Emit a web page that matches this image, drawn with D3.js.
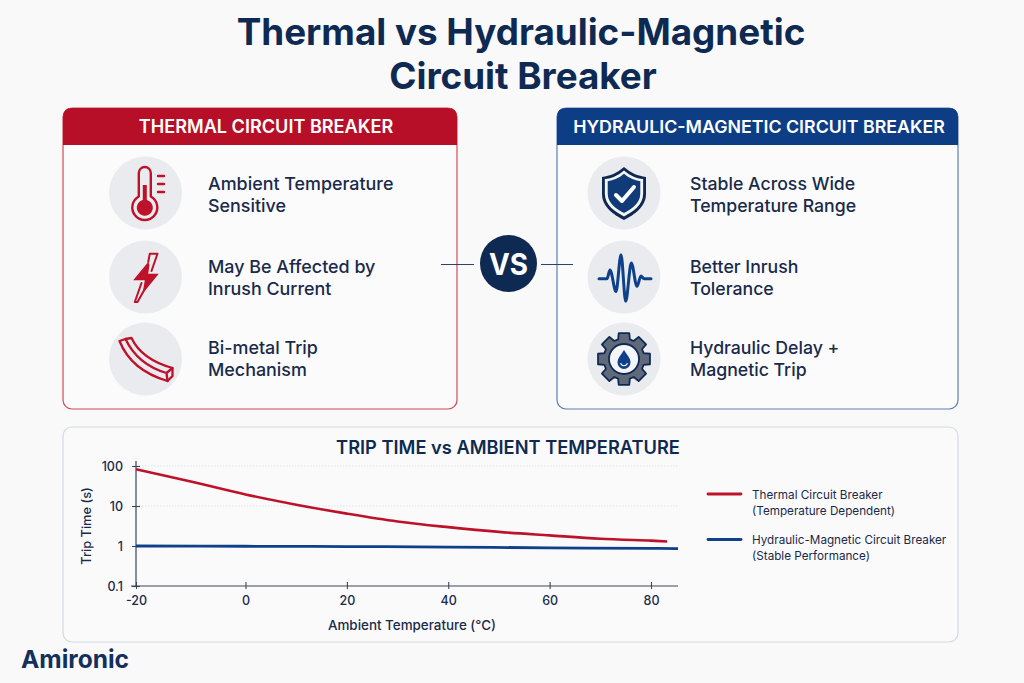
<!DOCTYPE html>
<html><head><meta charset="utf-8">
<script src="https://cdn.jsdelivr.net/npm/d3@7/dist/d3.min.js"></script>
<style>html,body{margin:0;padding:0;background:#f9f9fa}svg{display:block}text{font-family:Inter,"Noto Sans",sans-serif}</style>
</head><body><svg id="c" width="1024" height="683"></svg>
<script>
const tempsThermal=[-20,-10,0,10,20,30,40,50,60,70,80,83];
const tripThermal=[83,41,19.5,10.8,6.45,4.1,2.96,2.25,1.84,1.52,1.36,1.3];
const tempsHydraulic=[-20,0,20,40,60,80,85];
const tripHydraulic=[1,0.985,0.97,0.94,0.9,0.87,0.86];
const xTicks=[-20,0,20,40,60,80];
const yTicks=[100,10,1,0.1];
const yTickLabels=["100","10","1","0.1"];
const legendLabels=[["Thermal Circuit Breaker","(Temperature Dependent)"],["Hydraulic-Magnetic Circuit Breaker","(Stable Performance)"]];
const thermalPoints=[["Ambient Temperature","Sensitive"],["May Be Affected by","Inrush Current"],["Bi-metal Trip","Mechanism"]];
const hydraulicPoints=[["Stable Across Wide","Temperature Range"],["Better Inrush","Tolerance"],["Hydraulic Delay +","Magnetic Trip"]];
const NAVY="#0f2a52",RED="#bd1229",BLUE="#0e4189",INK="#1a2a4a";
const svg=d3.select("#c");
svg.append("rect").attr("width",1024).attr("height",683).attr("fill","#f9f9fa");
const T=(s,x,y,size,w,fill,anchor="start",ls=0)=>svg.append("text").attr("x",x).attr("y",y).attr("font-size",size).attr("font-weight",w).attr("fill",fill).attr("text-anchor",anchor).attr("letter-spacing",ls).text(s);
T("Thermal vs Hydraulic-Magnetic",521,45,36.8,700,NAVY,"middle");
T("Circuit Breaker",523,89,36.8,700,NAVY,"middle");

function panel(x,w,color,border,title,titleX,titleSize,textSize,points,iconFns){
  const y=108,h=301,hh=37,r=9;
  svg.append("rect").attr("x",x).attr("y",y).attr("width",w).attr("height",h).attr("rx",r).attr("fill","#fbfbfc").attr("stroke",border).attr("stroke-width",1.2);
  svg.append("path").attr("d",`M${x},${y+hh}V${y+r}Q${x},${y} ${x+r},${y}H${x+w-r}Q${x+w},${y} ${x+w},${y+r}V${y+hh}Z`).attr("fill",color);
  T(title,titleX,y+25,titleSize,600,"#fff","middle");
  const cx=x+(x<100?82.5:67);
  [193,277,359].forEach((cy,i)=>{
    svg.append("circle").attr("cx",cx).attr("cy",cy).attr("r",36.5).attr("fill","#e9ebef");
    iconFns[i](svg.append("g").attr("transform",`translate(${cx},${cy})`));
    const dy=[0,-1,-2][i];
    T(points[i][0],x+(x<100?145:133),cy-3+dy,textSize,500,INK);
    T(points[i][1],x+(x<100?145:133),cy+19+dy,textSize,500,INK);
  });
}
const stroke=(g,d,c,w)=>g.append("path").attr("d",d).attr("fill","none").attr("stroke",c).attr("stroke-width",w).attr("stroke-linecap","round").attr("stroke-linejoin","round");
const fill=(g,d,c)=>g.append("path").attr("d",d).attr("fill",c);
const thermo=g=>{
  stroke(g,"M-6.7,3.5V-20A6,6 0 0 1 5.3,-20V3.5A12.5,12.5 0 1 1 -6.7,3.5Z",RED,2.4);
  fill(g,"M-2.7,-8H1.3V7A8,8 0 1 1 -2.7,7Z",RED);
  ["-17","-9","-1"].forEach(y=>stroke(g,`M12.5,${y}H18.5`,RED,2.4));
};
const bolt=g=>{
  fill(g,"M2.7,-15L-12.3,3.3H-0.7L-3,16.7L13.3,-3.3H2.7L4,-12Z",RED);
  stroke(g,"M2.7,-15L4.3,-23.3H12L6,-6",RED,2);
  stroke(g,"M-4,6L-10.7,25L-8,25L-0.7,12",RED,2);
};
const bimetal=g=>{
  stroke(g,"M-26,-18C-22,-8 -12,12 22,22L27,17V9C9,4 -6,-4 -14,-21L-20,-20Z",RED,2.3);
  stroke(g,"M-20,-20C-11,-1 4,9 21,14L22,22M21,14L27,9",RED,2.3);
};
const shield=g=>{
  const d="M0,-26C7,-20 14,-17 22,-16V1C22,14 10,22 0,27C-10,22 -22,14 -22,1V-16C-14,-17 -7,-20 0,-26Z";
  fill(g,d,NAVY);
  fill(g,d,"#f4f5f7").attr("transform","scale(.87)");
  fill(g,d,"#103a78").attr("transform","scale(.74)");
  stroke(g,"M-8,2L-2,8L10,-6","#fff",4);
};
const pulsePts=[[-25,1.7],[-17,1.7],[-14,-7],[-8,14.5],[-3,-22.3],[1.7,24.3],[7.3,-14],[13,9.3],[17,-1],[20,1.7],[27,1.7]];
const pulse=g=>{
  stroke(g,d3.line().curve(d3.curveMonotoneX)(pulsePts),BLUE,3);
};
const gear=g=>{
  const teeth=8,ro=26.5,ri=20.5,pts=[];
  for(let i=0;i<teeth;i++){const a=i/teeth*2*Math.PI-Math.PI/2;const dw=.2,dg=.29;
    [[ri,a-dg],[ro,a-dw],[ro,a+dw],[ri,a+dg]].forEach(([r,t])=>pts.push([r*Math.cos(t),r*Math.sin(t)]));}
  g.append("path").attr("d","M"+pts.join("L")+"Z").attr("fill","#5f6979").attr("stroke",NAVY).attr("stroke-width",1.8).attr("stroke-linejoin","round");
  g.append("circle").attr("r",15).attr("fill","#f3f5f8").attr("stroke",NAVY).attr("stroke-width",1.8);
  fill(g,"M0,-9C3,-4 6.5,-1 6.5,3.5A6.5,6.5 0 0 1 -6.5,3.5C-6.5,-1 -3,-4 0,-9Z",BLUE);
  stroke(g,"M-3.2,4.5A3.4,3.4 0 0 0 3.2,4.5","#fff",1.2);
};
panel(63,394,"#b70f27","#d24a5c","THERMAL CIRCUIT BREAKER",266,18.1,17.9,thermalPoints,[thermo,bolt,bimetal]);
panel(557,401,"#0d3d84","#5e80b5","HYDRAULIC-MAGNETIC CIRCUIT BREAKER",759,17.8,17.7,hydraulicPoints,[shield,pulse,gear]);

// VS
svg.append("path").attr("d","M441,264.5H474M541,264.5H573").attr("stroke","#2c4366").attr("stroke-width",1.1);
svg.append("circle").attr("cx",508.5).attr("cy",263.5).attr("r",28.5).attr("fill",NAVY);
T("VS",508.5,275,30,700,"#fff","middle").attr("textLength",39).attr("lengthAdjust","spacingAndGlyphs");

// chart panel
svg.append("rect").attr("x",63).attr("y",427).attr("width",895).attr("height",215).attr("rx",9).attr("fill","#fafafb").attr("stroke","#d3d9e3").attr("stroke-width",1.2);
T("TRIP TIME vs AMBIENT TEMPERATURE",508,454,18.25,600,NAVY,"middle");
const x=d3.scaleLinear().domain([-20,0,80,85]).range([136,245.5,651,678]);
const y=d3.scaleLog().domain([0.1,100]).range([586,466]);
const gridG=svg.append("g");
yTicks.slice(0,2).forEach(v=>gridG.append("line").attr("x1",136).attr("x2",678).attr("y1",y(v)).attr("y2",y(v)).attr("stroke","#dfe2e8").attr("stroke-dasharray","1.5 1.5"));
const xa=svg.append("g").attr("transform","translate(0,586)").call(d3.axisBottom(x).tickValues(xTicks).tickFormat(d=>d).tickSize(0).tickPadding(10));
xa.select(".domain").attr("stroke","#3c4658").attr("stroke-width",1.2).attr("d","M131,0H678");
xa.selectAll("text").attr("font-size",12.5).attr("font-weight",500).attr("fill",INK).style("font-family","Inter");
xa.selectAll(".tick line").attr("y1",-4).attr("y2",3).attr("stroke","#3c4658").attr("stroke-width",1.1);
const ya=svg.append("g").attr("transform","translate(136,0)").call(d3.axisLeft(y).tickValues(yTicks).tickFormat((d,i)=>yTickLabels[i]).tickSize(0).tickPadding(13));
ya.select(".domain").attr("stroke","#3c4658").attr("stroke-width",1.2).attr("d","M0,586V461");
ya.selectAll("text").attr("font-size",12.5).attr("font-weight",500).attr("fill",INK).style("font-family","Inter");
ya.selectAll(".tick line").attr("x1",-4).attr("x2",4).attr("stroke","#3c4658").attr("stroke-width",1.1);
const line=d3.line().x(d=>x(d[0])).y(d=>y(d[1])).curve(d3.curveCatmullRom);
svg.append("path").attr("d",line(tempsThermal.map((t,i)=>[t,tripThermal[i]]))).attr("fill","none").attr("stroke",RED).attr("stroke-width",2.6);
svg.append("path").attr("d",line(tempsHydraulic.map((t,i)=>[t,tripHydraulic[i]]))).attr("fill","none").attr("stroke",BLUE).attr("stroke-width",2.8);
T("Ambient Temperature (°C)",412,630,13.4,500,INK,"middle");
svg.append("text").attr("transform","translate(91,526) rotate(-90)").attr("text-anchor","middle").attr("font-size",12.8).attr("font-weight",500).attr("fill",INK).text("Trip Time (s)");
[[494,RED],[539.5,BLUE]].forEach(([ly,c],i)=>{
  svg.append("line").attr("x1",708).attr("x2",741).attr("y1",ly).attr("y2",ly).attr("stroke",c).attr("stroke-width",2.8).attr("stroke-linecap","round");
  T(legendLabels[i][0],752,ly+4.5,11.7,400,INK);
  T(legendLabels[i][1],752,ly+20.5,11.7,400,INK);
});
T("Amironic",21,667.5,24.5,700,"#12305c");
</script></body></html>
